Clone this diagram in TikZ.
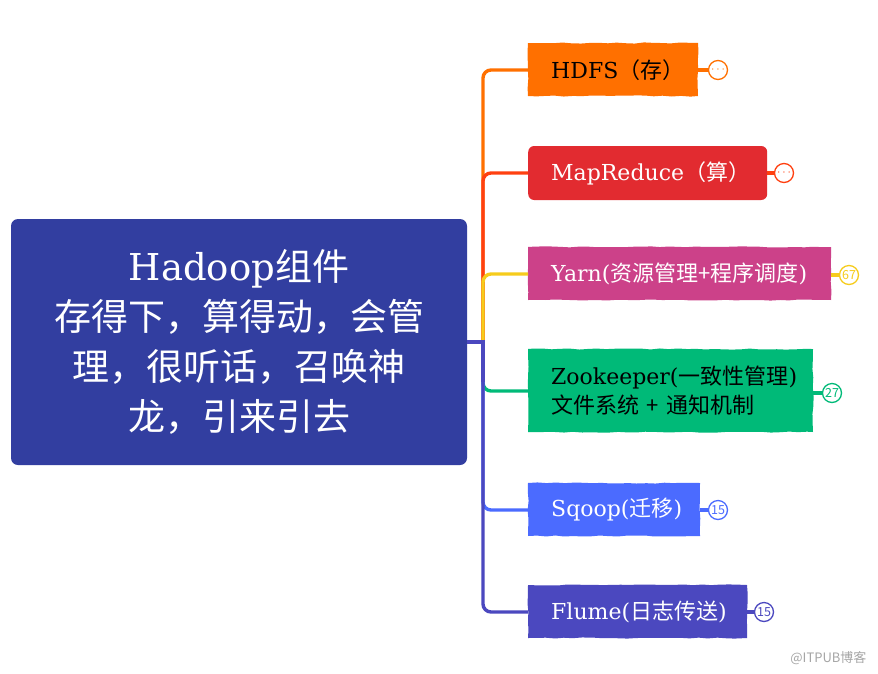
\documentclass[tikz,border=0pt]{standalone}
\usepackage{fontspec}
\setmainfont{DejaVu Serif}
\newfontfamily\cjk{Noto Sans CJK SC}
\usetikzlibrary{positioning,decorations.pathmorphing}
\definecolor{rootblue}{RGB}{50,62,160}
\definecolor{hdfsfill}{RGB}{255,112,0}
\definecolor{mrfill}{RGB}{226,43,48}
\definecolor{mrline}{RGB}{255,64,16}
\definecolor{yarnfill}{RGB}{204,65,137}
\definecolor{yarnline}{RGB}{246,204,28}
\definecolor{zkfill}{RGB}{0,186,120}
\definecolor{sqoopfill}{RGB}{75,107,255}
\definecolor{flumefill}{RGB}{75,72,191}
\tikzset{
  line cap=round,
  line join=round,
  rootbox/.style={draw=none, fill=rootblue, rounded corners=7pt, minimum width=456pt,
    minimum height=246pt, align=center, text=white, font=\fontsize{37}{50}\selectfont},
  branch/.style={anchor=west, minimum height=54pt, inner xsep=23pt, align=left,
    font=\fontsize{22}{29}\selectfont},
  rough/.style={decorate, decoration={random steps, segment length=9pt, amplitude=0.6pt}},
  link/.style={line width=3.4pt, rounded corners=8pt},
  count/.style={circle, draw, fill=white, line width=1.3pt, minimum size=19pt, inner sep=0pt,
    font=\cjk\fontsize{12.5}{12.5}\selectfont},
}
\begin{document}
\begin{tikzpicture}[x=1pt,y=-1pt]
\useasboundingbox[fill=white] (0,0) rectangle (878,673);

% 中心主题
\node[rootbox] (root) at (239,342)
  {Hadoop{\cjk 组件}\\{\cjk 存得下，算得动，会管}\\{\cjk 理，很听话，召唤神}\\{\cjk 龙，引来引去}};
\coordinate (hub) at (483,342);

% 分支主题
\fill[hdfsfill, rough] (528,43) rectangle (698,96);
\node[branch, text width=124pt] (hdfs) at (528,70) {HDFS{\cjk （存）}};
\node[branch, text width=193pt, fill=mrfill, rounded corners=6pt, text=white, minimum width=239pt]
  (mr) at (528,173) {MapReduce{\cjk （算）}};
\fill[yarnfill, rough] (528,247) rectangle (831,300);
\node[branch, text width=257pt, text=white] (yarn) at (528,274) {Yarn({\cjk 资源管理+程序调度})};
\fill[zkfill, rough] (528,349) rectangle (813,432);
\node[branch, text width=239pt, minimum height=84pt] (zk) at (528,391)
  {Zookeeper({\cjk 一致性管理})\\{\cjk 文件系统 + 通知机制}};
\fill[sqoopfill, rough] (528,483) rectangle (700,536);
\node[branch, text width=126pt, text=white] (sqoop) at (528,510) {Sqoop({\cjk 迁移})};
\fill[flumefill, rough] (528,585) rectangle (747,638);
\node[branch, text width=173pt, text=white] (flume) at (528,612) {Flume({\cjk 日志传送})};

% 连线
\draw[link, hdfsfill] (hub) |- (hdfs.west);
\draw[link, mrline] (hub) |- (mr.west);
\draw[link, yarnline] (hub) |- (yarn.west);
\draw[link, zkfill] (hub) |- (zk.west);
\draw[link, sqoopfill] (hub) |- (sqoop.west);
\draw[link, flumefill] (hub) |- (flume.west);
\draw[line width=3.4pt, flumefill] (root.east |- hub) -- (hub) -- ++(0,40);

% 折叠计数
\node[count, draw=hdfsfill, text=hdfsfill] (hdfsc) at (718,70) {$\cdots$};
\node[count, draw=mrline, text=mrline] (mrc) at (784,173) {$\cdots$};
\node[count, draw=yarnline, text=yarnline] (yarnc) at (849,275) {67};
\node[count, draw=zkfill, text=zkfill] (zkc) at (832,393) {27};
\node[count, draw=sqoopfill, text=sqoopfill] (sqoopc) at (718,510) {15};
\node[count, draw=flumefill, text=flumefill] (flumec) at (764,612) {15};
\draw[line width=3.4pt, hdfsfill] (698,70) -- (hdfsc);
\draw[line width=3.4pt, mrline] (mr.east) -- (mrc);
\draw[line width=3.4pt, yarnline] (831,275) -- (yarnc);
\draw[line width=3.4pt, zkfill] (813,393) -- (zkc);
\draw[line width=3.4pt, sqoopfill] (700,510) -- (sqoopc);
\draw[line width=3.4pt, flumefill] (747,612) -- (flumec);

% 水印
\node[text=black!35, font=\cjk\fontsize{13}{13}\selectfont, anchor=east] (mark) at (870,658) {@ITPUB博客};
\end{tikzpicture}
\end{document}
